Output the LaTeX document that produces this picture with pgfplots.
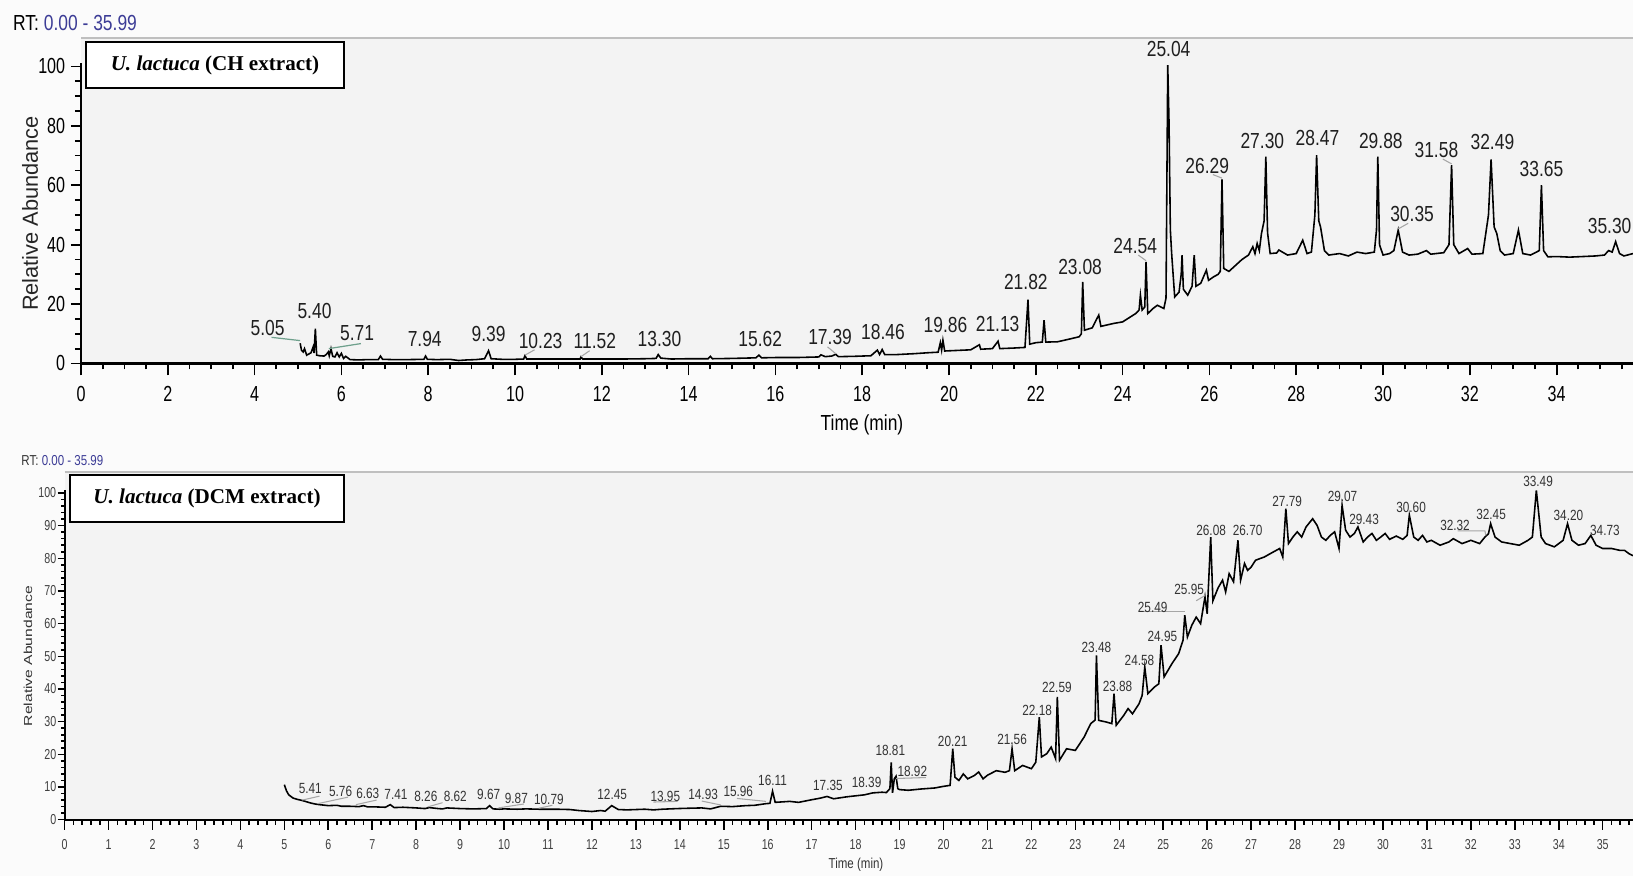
\documentclass[border=0pt]{standalone}
\usepackage{fontspec}
\setmainfont{Liberation Sans}
\newfontfamily\cond{Liberation Sans}[FakeStretch=0.8]
\newfontfamily\condt{Liberation Sans}[FakeStretch=0.74]
\newfontfamily\tnr{Liberation Serif}
\usepackage{pgfplots}
\pgfplotsset{compat=1.18}
\definecolor{rtblue}{RGB}{60,60,150}
\definecolor{lead}{RGB}{110,160,140}
\definecolor{panel}{RGB}{243,243,243}
\tikzset{
  plab/.style={font=\cond\fontsize{6.2}{7}\selectfont, text=black!88, inner sep=0pt},
  blab/.style={font=\cond\fontsize{4.2}{5}\selectfont, text=black!80, inner sep=0pt},
  ldr/.style={gray!70, line width=0.3pt},
}
\begin{document}
\begin{tikzpicture}
\useasboundingbox (0,0) rectangle (16.33,8.76);
\fill[white!97!gray] (0,0) rectangle (16.33,8.76);
\fill[panel] (0.81,5.125) rectangle (16.33,8.38);
\draw[gray!50, line width=0.5pt] (0.81,8.38) -- (16.33,8.38);
\fill[panel] (0.646,0.563) rectangle (16.33,4.04);
\draw[gray!50, line width=0.5pt] (0.646,4.04) -- (16.33,4.04);

% ---------------- top panel ----------------
\begin{axis}[
  at={(0.81cm,5.125cm)}, anchor=south west, scale only axis,
  width=15.52cm, height=3.0cm,
  xmin=0, xmax=35.76, ymin=0, ymax=101,
  axis x line*=bottom, axis y line*=left,
  axis line style={-, line width=0.6pt, black},
  clip mode=individual,
  tick align=outside,
  xtick={0,2,...,34}, minor xtick={0,0.5,...,35.5},
  ytick={0,20,...,100}, minor ytick={0,5,...,100},
  xtick style={/pgfplots/major tick length=0.12cm, /pgfplots/minor tick length=0.06cm, black, line width=0.5pt},
  ytick style={/pgfplots/major tick length=0.10cm, /pgfplots/minor tick length=0.06cm, black, line width=0.5pt},
  ticklabel style={font=\condt\fontsize{6.2}{7}\selectfont},
  /pgf/number format/assume math mode=true,
  xticklabel style={yshift=0.044cm},
  yticklabel style={xshift=0.116cm},
]
\addplot[black, line width=0.45pt] coordinates {
(5.05,6.8) (5.08,4.5) (5.12,3.9) (5.15,5.0) (5.2,2.8) (5.25,3.2) (5.3,3.6) (5.35,5.6) (5.37,3.5) (5.40,11.7) (5.43,2.8) (5.5,2.6) (5.6,2.5) (5.65,3.0) (5.7,3.9) (5.72,2.6) (5.76,5.0) (5.8,2.4) (5.85,2.2) (5.9,3.6) (5.95,2.2) (6.0,3.4) (6.05,1.7) (6.1,2.4) (6.2,1.3) (6.4,1.2) (6.6,1.3) (6.85,1.3) (6.9,2.5) (6.95,1.4) (7.2,1.3) (7.5,1.3) (7.9,1.4) (7.94,2.5) (7.98,1.4) (8.2,1.3) (8.5,1.4) (8.7,1.0) (8.9,1.2) (9.1,1.3) (9.3,1.6) (9.39,4.3) (9.45,1.6) (9.7,1.4) (10.0,1.4) (10.2,1.5) (10.23,2.6) (10.27,1.5) (10.6,1.5) (11.0,1.5) (11.5,1.5) (11.52,2.2) (11.56,1.5) (12.0,1.5) (12.5,1.5) (13.0,1.6) (13.25,1.7) (13.30,3.0) (13.36,1.8) (13.6,1.5) (14.0,1.6) (14.45,1.6) (14.5,2.4) (14.55,1.6) (15.0,1.7) (15.55,1.9) (15.62,2.8) (15.68,1.9) (16.0,2.0) (16.5,2.0) (17.0,2.2) (17.05,2.9) (17.15,2.3) (17.3,2.5) (17.39,3.1) (17.45,2.3) (17.8,2.4) (18.2,2.6) (18.35,4.5) (18.4,3.0) (18.46,4.7) (18.52,3.0) (18.8,3.0) (19.2,3.3) (19.5,3.6) (19.75,3.8) (19.8,7.0) (19.83,4.5) (19.86,7.8) (19.9,4.2) (20.2,4.4) (20.5,4.6) (20.7,6.3) (20.73,4.8) (21.0,5.0) (21.13,7.5) (21.17,5.0) (21.5,5.2) (21.75,5.4) (21.82,21.5) (21.86,6.5) (22.0,7.0) (22.15,7.2) (22.19,14.6) (22.23,7.2) (22.5,7.3) (22.8,8.3) (23.0,9.0) (23.05,10) (23.08,27.5) (23.12,11.2) (23.3,12.0) (23.45,16.3) (23.5,12.5) (23.8,13.5) (24.0,14.0) (24.3,16.8) (24.38,18) (24.41,23) (24.45,18) (24.51,19) (24.54,34.2) (24.58,16.8) (24.7,18.5) (24.8,19.6) (24.95,18.5) (25.00,22) (25.04,100.4) (25.07,80.8) (25.10,45) (25.13,37) (25.2,22.4) (25.3,24) (25.35,30) (25.37,36.5) (25.40,25) (25.5,23) (25.6,26) (25.65,36.5) (25.69,26) (25.8,27) (25.93,31.4) (25.98,28) (26.1,29.2) (26.2,30) (26.25,31) (26.29,62) (26.33,32) (26.45,31) (26.6,33) (26.75,35) (26.9,36.5) (27.0,39.3) (27.05,37) (27.1,40.4) (27.15,38) (27.2,43.8) (27.26,48) (27.30,69.6) (27.34,44) (27.4,37) (27.55,37.2) (27.6,38.2) (27.8,36.5) (28.0,37) (28.15,41.5) (28.25,37) (28.35,37.5) (28.43,50) (28.47,70.1) (28.52,48) (28.56,46) (28.65,38) (28.75,36.5) (29.0,37) (29.2,36.2) (29.4,37.5) (29.6,37) (29.8,37.5) (29.85,45) (29.88,69.6) (29.92,40) (30.0,36.5) (30.15,37) (30.25,38) (30.35,44.9) (30.45,37.5) (30.6,36.5) (30.8,36.8) (31.0,38) (31.1,36.8) (31.4,37.3) (31.52,40) (31.58,66.8) (31.63,40) (31.75,37) (31.95,38.7) (32.05,36.8) (32.3,37) (32.43,50) (32.49,68.7) (32.56,46) (32.62,43.8) (32.7,38) (32.8,36.5) (33.0,37) (33.12,44.9) (33.22,37) (33.4,36.5) (33.6,38) (33.65,60) (33.7,38) (33.8,35.9) (34.0,36) (34.3,35.8) (34.6,36) (34.9,36.2) (35.1,36.5) (35.2,38) (35.28,37.5) (35.36,41) (35.45,37) (35.55,36.2) (35.76,37)
};
\draw[lead, line width=0.35pt] (axis cs:4.39,8.8) -- (axis cs:5.05,7.7);
\draw[lead, line width=0.35pt] (axis cs:5.71,5.0) -- (axis cs:6.45,6.7);
\draw[ldr] (axis cs:10.23,2.8) -- (axis cs:10.45,4.6);
\draw[ldr] (axis cs:11.52,2.3) -- (axis cs:11.72,4.3);
\draw[ldr] (axis cs:17.39,3.3) -- (axis cs:17.2,5.6);
\draw[ldr] (axis cs:24.54,34.6) -- (axis cs:24.36,36.5);
\draw[ldr] (axis cs:26.29,62.4) -- (axis cs:26.08,63.6);
\draw[ldr] (axis cs:30.35,45.3) -- (axis cs:30.58,47.2);
\draw[ldr] (axis cs:31.58,67.2) -- (axis cs:31.38,68.8);
\node[plab] at (axis cs:4.30,11.9) {5.05};
\node[plab] at (axis cs:5.38,17.5) {5.40};
\node[plab] at (axis cs:6.36,10.2) {5.71};
\node[plab] at (axis cs:7.92,8.4) {7.94};
\node[plab] at (axis cs:9.39,9.8) {9.39};
\node[plab] at (axis cs:10.59,7.7) {10.23};
\node[plab] at (axis cs:11.84,7.4) {11.52};
\node[plab] at (axis cs:13.33,8.4) {13.30};
\node[plab] at (axis cs:15.65,8.4) {15.62};
\node[plab] at (axis cs:17.26,8.8) {17.39};
\node[plab] at (axis cs:18.48,10.5) {18.46};
\node[plab] at (axis cs:19.92,13.0) {19.86};
\node[plab] at (axis cs:21.12,13.3) {21.13};
\node[plab] at (axis cs:21.77,27.4) {21.82};
\node[plab] at (axis cs:23.02,32.6) {23.08};
\node[plab] at (axis cs:24.29,39.6) {24.54};
\node[plab] at (axis cs:25.06,105.9) {25.04};
\node[plab] at (axis cs:25.95,66.6) {26.29};
\node[plab] at (axis cs:27.22,75.0) {27.30};
\node[plab] at (axis cs:28.49,75.8) {28.47};
\node[plab] at (axis cs:29.95,75.0) {29.88};
\node[plab] at (axis cs:30.67,50.2) {30.35};
\node[plab] at (axis cs:31.23,71.9) {31.58};
\node[plab] at (axis cs:32.52,74.7) {32.49};
\node[plab] at (axis cs:33.65,65.6) {33.65};
\node[plab, anchor=east] at (axis cs:35.74,46.3) {35.30};
\end{axis}

% ---------------- bottom panel ----------------
\begin{axis}[
  at={(0.646cm,0.563cm)}, anchor=south west, scale only axis,
  width=15.684cm, height=3.30cm,
  xmin=0, xmax=35.69, ymin=0, ymax=101,
  axis x line*=bottom, axis y line*=left,
  axis line style={-, line width=0.6pt, black},
  clip mode=individual,
  tick align=outside,
  xtick={0,1,...,35}, minor xtick={0,0.2,...,35.6},
  ytick={0,10,...,100}, minor ytick={0,2,...,100},
  xtick style={/pgfplots/major tick length=0.10cm, /pgfplots/minor tick length=0.05cm, black, line width=0.45pt},
  ytick style={/pgfplots/major tick length=0.07cm, /pgfplots/minor tick length=0.035cm, black, line width=0.45pt},
  ticklabel style={font=\condt\fontsize{4.1}{5}\selectfont, text=black!75},
  /pgf/number format/assume math mode=true,
  xticklabel style={yshift=0.08cm},
  yticklabel style={xshift=0.19cm},
]
\addplot[black, line width=0.45pt] coordinates {
(5.0,10.7) (5.05,8.8) (5.1,7.6) (5.2,6.6) (5.3,6.2) (5.4,5.9) (5.5,5.5) (5.6,5.1) (5.7,4.8) (5.8,4.6) (6.0,4.3) (6.2,4.4) (6.3,4.1) (6.5,4.1) (6.7,4.0) (6.8,4.3) (6.9,3.9) (7.1,3.9) (7.3,3.8) (7.41,4.6) (7.5,3.7) (7.7,3.8) (8.0,3.6) (8.2,3.4) (8.3,3.7) (8.5,3.4) (8.6,3.3) (8.7,3.6) (9.0,3.4) (9.3,3.3) (9.6,3.4) (9.67,4.3) (9.75,3.3) (9.9,3.2) (10.0,3.3) (10.3,3.2) (10.5,3.3) (10.8,3.2) (11.2,3.2) (11.5,3.1) (11.7,2.8) (12.0,2.5) (12.2,2.8) (12.3,2.6) (12.45,4.3) (12.6,3.1) (12.8,3.0) (13.0,3.1) (13.2,3.2) (13.4,3.0) (13.6,3.2) (13.95,3.4) (14.2,3.5) (14.5,3.6) (14.7,3.3) (14.93,4.1) (15.2,4.0) (15.5,4.3) (15.7,4.4) (15.96,4.9) (16.05,5.0) (16.11,8.7) (16.17,5.3) (16.5,5.6) (16.7,5.3) (17.0,6.1) (17.2,6.6) (17.35,7.1) (17.5,6.4) (17.8,7.0) (18.0,7.3) (18.2,7.6) (18.39,8.2) (18.6,8.4) (18.7,8.3) (18.78,9.5) (18.81,17.5) (18.84,8.2) (18.88,12.5) (18.92,13.3) (18.96,9.5) (19.0,9.2) (19.2,9.0) (19.5,9.4) (19.8,9.7) (20.0,10.2) (20.15,10.5) (20.21,21.7) (20.26,13) (20.35,12) (20.45,14) (20.55,12.5) (20.7,13.5) (20.8,14.6) (20.9,12.5) (21.0,13.6) (21.2,15) (21.4,14.5) (21.5,15) (21.56,21.7) (21.62,15) (21.8,16.6) (22.0,15.6) (22.1,17.6) (22.18,31.4) (22.23,19.2) (22.35,20.2) (22.45,22.2) (22.55,18.7) (22.59,37.6) (22.64,18.2) (22.8,21.7) (23.0,21.2) (23.2,25.3) (23.35,29.4) (23.45,30.5) (23.48,50.3) (23.53,30.4) (23.7,29.9) (23.83,29.4) (23.88,38.6) (23.93,28.9) (24.1,31.9) (24.2,34) (24.3,32.4) (24.45,35.5) (24.52,38) (24.58,46.7) (24.65,38.6) (24.8,40.6) (24.9,41.6) (24.95,53.4) (25.02,43.7) (25.2,47.8) (25.35,50.8) (25.45,54.9) (25.49,62.6) (25.55,55.9) (25.65,59.5) (25.75,62) (25.85,60) (25.95,68.2) (26.0,63) (26.08,86.5) (26.13,67) (26.25,71) (26.35,73.3) (26.42,69.7) (26.5,75.3) (26.6,72.8) (26.70,85.5) (26.76,73.3) (26.85,78.4) (26.92,76.3) (27.0,77.3) (27.1,79.4) (27.3,80.4) (27.5,81.9) (27.65,83) (27.72,80.4) (27.79,95.2) (27.85,84.5) (27.95,86.5) (28.05,88.1) (28.15,86.5) (28.25,89.6) (28.4,92.1) (28.5,90.1) (28.6,86.5) (28.7,85.5) (28.8,87) (28.9,88.1) (29.0,83) (29.07,96.2) (29.15,88.6) (29.25,86.5) (29.35,87.6) (29.43,89.6) (29.55,85) (29.65,86.5) (29.75,87.6) (29.85,85.5) (29.95,86.5) (30.05,87.6) (30.15,85.8) (30.3,86.8) (30.45,85.8) (30.55,87) (30.60,93.2) (30.7,86.5) (30.8,85.5) (30.9,87) (31.0,85) (31.1,85.5) (31.3,84) (31.5,85) (31.6,86) (31.8,84.5) (32.0,85.5) (32.2,84.5) (32.32,86.5) (32.4,87.5) (32.45,90.6) (32.55,86.5) (32.7,85) (32.9,84.5) (33.1,84) (33.3,85.5) (33.4,86.5) (33.49,100.8) (33.6,86.5) (33.7,84.5) (33.9,83.5) (34.1,85.5) (34.20,90.6) (34.3,85.5) (34.45,84) (34.6,84.5) (34.73,87) (34.85,84) (35.0,83) (35.2,83) (35.4,82.4) (35.5,82.4) (35.6,81.4) (35.69,80.8)
};
\draw[ldr] (axis cs:5.41,6.0) -- (axis cs:5.8,7.2);
\draw[ldr] (axis cs:5.76,4.9) -- (axis cs:6.45,6.9);
\draw[ldr] (axis cs:6.63,4.6) -- (axis cs:7.1,6.0);
\draw[ldr] (axis cs:8.26,3.9) -- (axis cs:8.6,5.2);
\draw[ldr] (axis cs:9.87,3.6) -- (axis cs:10.45,4.8);
\draw[ldr] (axis cs:10.79,3.5) -- (axis cs:11.1,4.4);
\draw[ldr] (axis cs:13.4,5.4) -- (axis cs:13.95,5.6);
\draw[ldr] (axis cs:14.5,5.7) -- (axis cs:14.93,4.5);
\draw[ldr] (axis cs:15.3,6.5) -- (axis cs:15.96,5.6);
\draw[ldr] (axis cs:18.92,12.6) -- (axis cs:19.6,12.9);
\draw[ldr] (axis cs:24.45,63.6) -- (axis cs:25.49,63.6);
\draw[ldr] (axis cs:25.75,67.0) -- (axis cs:25.95,68.6);
\draw[ldr] (axis cs:31.7,88.4) -- (axis cs:32.32,88.4) -- (axis cs:32.34,87.0);
\node[blab] at (axis cs:5.59,9.6) {5.41};
\node[blab] at (axis cs:6.28,8.6) {5.76};
\node[blab] at (axis cs:6.90,8.0) {6.63};
\node[blab] at (axis cs:7.54,7.6) {7.41};
\node[blab] at (axis cs:8.22,7.0) {8.26};
\node[blab] at (axis cs:8.89,7.0) {8.62};
\node[blab] at (axis cs:9.65,7.6) {9.67};
\node[blab] at (axis cs:10.28,6.4) {9.87};
\node[blab] at (axis cs:11.02,6.1) {10.79};
\node[blab] at (axis cs:12.46,7.6) {12.45};
\node[blab] at (axis cs:13.67,7.0) {13.95};
\node[blab] at (axis cs:14.53,7.6) {14.93};
\node[blab] at (axis cs:15.33,8.6) {15.96};
\node[blab] at (axis cs:16.11,12.1) {16.11};
\node[blab] at (axis cs:17.37,10.5) {17.35};
\node[blab] at (axis cs:18.25,11.5) {18.39};
\node[blab] at (axis cs:18.79,21.3) {18.81};
\node[blab] at (axis cs:19.29,14.7) {18.92};
\node[blab] at (axis cs:20.21,23.9) {20.21};
\node[blab] at (axis cs:21.56,24.5) {21.56};
\node[blab] at (axis cs:22.13,33.5) {22.18};
\node[blab] at (axis cs:22.58,40.5) {22.59};
\node[blab] at (axis cs:23.48,52.6) {23.48};
\node[blab] at (axis cs:23.96,40.8) {23.88};
\node[blab] at (axis cs:24.46,48.7) {24.58};
\node[blab] at (axis cs:24.98,56.1) {24.95};
\node[blab] at (axis cs:24.76,65.0) {25.49};
\node[blab] at (axis cs:25.59,70.4) {25.95};
\node[blab] at (axis cs:26.09,88.6) {26.08};
\node[blab] at (axis cs:26.92,88.6) {26.70};
\node[blab] at (axis cs:27.82,97.5) {27.79};
\node[blab] at (axis cs:29.08,99.0) {29.07};
\node[blab] at (axis cs:29.57,92.0) {29.43};
\node[blab] at (axis cs:30.64,95.6) {30.60};
\node[blab] at (axis cs:31.64,90.1) {32.32};
\node[blab] at (axis cs:32.46,93.3) {32.45};
\node[blab] at (axis cs:33.53,103.5) {33.49};
\node[blab] at (axis cs:34.22,93.0) {34.20};
\node[blab] at (axis cs:35.05,88.6) {34.73};
\end{axis}

% ---------------- texts ----------------
\node[anchor=west, inner sep=0pt, font=\cond\fontsize{6.2}{7}\selectfont] at (0.125,8.53) {RT: \textcolor{rtblue}{0.00 - 35.99}};
\node[anchor=east, inner sep=0pt, font=\cond\fontsize{4.1}{5}\selectfont, text=black!80] at (1.04,4.15) {RT: \textcolor{rtblue}{0.00 - 35.99}};
\node[rotate=90, inner sep=0pt, font=\fontsize{6.2}{7}\selectfont, text=black!85] at (0.30,6.625) {Relative Abundance};
\node[rotate=90, inner sep=0pt, text=black!80] at (0.28,2.2) {\scalebox{1.35}[1]{\fontsize{3.3}{4}\selectfont Relative Abundance}};
\node[inner sep=0pt, font=\cond\fontsize{6.2}{7}\selectfont] at (8.62,4.51) {Time (min)};
\node[inner sep=0pt, font=\cond\fontsize{4.1}{5}\selectfont, text=black!80] at (8.56,0.115) {Time (min)};
\node[draw=black, line width=0.5pt, fill=white, minimum width=2.58cm, minimum height=0.455cm, inner sep=0pt, font=\tnr\fontsize{6}{7}\selectfont\bfseries] at (2.15,8.11) {\textit{U. lactuca} (CH extract)};
\node[draw=black, line width=0.5pt, fill=white, minimum width=2.74cm, minimum height=0.47cm, inner sep=0pt, font=\tnr\fontsize{6}{7}\selectfont\bfseries] at (2.07,3.775) {\textit{U. lactuca} (DCM extract)};
\end{tikzpicture}
\end{document}
